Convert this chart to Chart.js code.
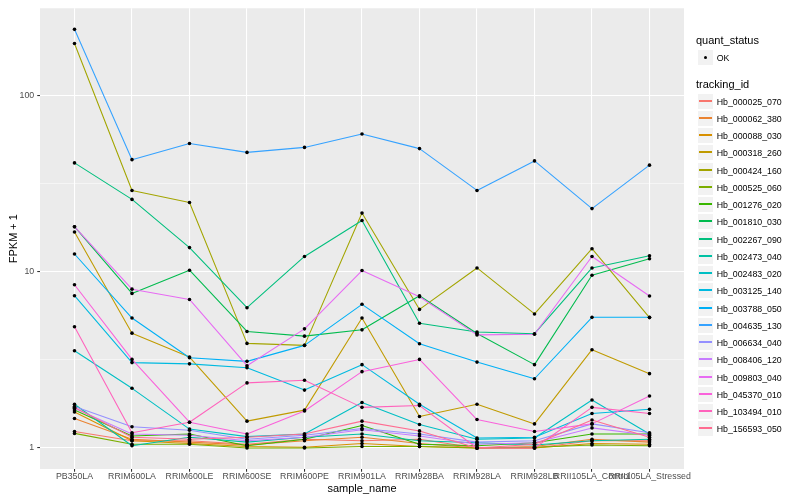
<!DOCTYPE html>
<html><head><meta charset="utf-8">
<script src="https://cdn.jsdelivr.net/npm/chart.js@4.4.1/dist/chart.umd.min.js"></script>
<style>
html,body{margin:0;padding:0;background:#fff;}
#wrap{position:relative;width:800px;height:500px;font-family:"Liberation Sans",Arial,sans-serif;overflow:hidden;}
canvas{position:absolute;left:0;top:0;}
.ttl{position:absolute;left:696px;font-size:11px;line-height:13px;color:#000;white-space:nowrap;}
.row{position:absolute;left:697px;height:17px;display:flex;align-items:center;white-space:nowrap;}
.key{width:17px;height:17px;box-sizing:border-box;background:#F2F2F2;border:1px solid #fff;position:relative;flex:none;}
.key .ln{position:absolute;left:1px;right:1px;top:6px;height:2px;}
.key .dot{position:absolute;left:5.7px;top:5.7px;width:3.6px;height:3.6px;border-radius:50%;background:#000;}
.lab{font-size:8.8px;line-height:10px;margin-left:2.7px;color:#000;}
</style></head><body>
<div id="wrap"><canvas id="c" width="800" height="500"></canvas><div id="legend"></div></div>
<script>
// ---- data ----
const categories = ["PB350LA","RRIM600LA","RRIM600LE","RRIM600SE","RRIM600PE","RRIM901LA","RRIM928BA","RRIM928LA","RRIM928LB","RRII105LA_Control","RRII105LA_Stressed"];
const trackingIds = ["Hb_000025_070","Hb_000062_380","Hb_000088_030","Hb_000318_260","Hb_000424_160","Hb_000525_060","Hb_001276_020","Hb_001810_030","Hb_002267_090","Hb_002473_040","Hb_002483_020","Hb_003125_140","Hb_003788_050","Hb_004635_130","Hb_006634_040","Hb_008406_120","Hb_009803_040","Hb_045370_010","Hb_103494_010","Hb_156593_050"];
const seriesColors = ["#F8766D","#EA8331","#D89000","#C09B00","#A3A500","#7CAE00","#39B600","#00BB4E","#00BF7D","#00C1A3","#00BFC4","#00BAE0","#00B0F6","#35A2FF","#9590FF","#C77CFF","#E76BF3","#FA62DB","#FF62BC","#FF6C91"];

const hb_000025_070 = [1.24, 1.10, 1.10, 1.05, 1.12, 1.10, 1.12, 1.00, 1.00, 1.10, 1.10];
const hb_000062_380 = [1.47, 1.12, 1.08, 1.04, 1.10, 1.15, 1.06, 1.00, 1.02, 1.12, 1.08];
const hb_000088_030 = [1.60, 1.10, 1.06, 1.02, 1.01, 1.06, 1.02, 1.00, 1.00, 1.06, 1.05];
const hb_000318_260 = [16.8, 4.48, 3.28, 1.42, 1.64, 5.46, 1.51, 1.77, 1.37, 3.61, 2.64];
const hb_000424_160 = [197, 28.9, 24.7, 3.92, 3.82, 21.5, 6.11, 10.5, 5.76, 13.5, 5.49];
const hb_000525_060 = [1.21, 1.05, 1.05, 1.00, 1.00, 1.02, 1.02, 1.00, 1.01, 1.04, 1.03];
const hb_001276_020 = [1.64, 1.17, 1.20, 1.03, 1.12, 1.34, 1.05, 1.03, 1.07, 1.20, 1.20];
const hb_001810_030 = [18.0, 7.53, 10.2, 4.58, 4.31, 4.68, 7.30, 4.46, 2.97, 9.55, 11.85];
const hb_002267_090 = [41.4, 25.7, 13.7, 6.25, 12.2, 19.5, 5.10, 4.55, 4.45, 10.5, 12.3];
const hb_002473_040 = [1.77, 1.03, 1.15, 1.08, 1.15, 1.20, 1.10, 1.07, 1.04, 1.10, 1.12];
const hb_002483_020 = [3.56, 2.18, 1.28, 1.16, 1.20, 1.81, 1.36, 1.12, 1.14, 1.87, 1.20];
const hb_003125_140 = [7.31, 3.05, 3.00, 2.85, 2.13, 2.97, 1.77, 1.14, 1.15, 1.57, 1.66];
const hb_003788_050 = [12.6, 5.46, 3.25, 3.10, 3.82, 6.53, 3.90, 3.07, 2.47, 5.51, 5.52];
const hb_004635_130 = [237, 43.2, 53.4, 47.5, 50.7, 60.4, 49.9, 28.9, 42.5, 22.8, 40.2];
const hb_006634_040 = [1.72, 1.32, 1.26, 1.12, 1.18, 1.29, 1.20, 1.08, 1.10, 1.37, 1.22];
const hb_008406_120 = [1.68, 1.20, 1.18, 1.10, 1.15, 1.27, 1.17, 1.05, 1.07, 1.30, 1.18];
const hb_009803_040 = [18.0, 7.96, 6.96, 2.93, 4.74, 10.15, 7.21, 4.38, 4.42, 12.2, 7.28];
const hb_045370_010 = [8.43, 3.18, 1.40, 1.20, 1.62, 2.71, 3.18, 1.45, 1.24, 1.37, 1.97];
const hb_103494_010 = [4.87, 1.22, 1.40, 2.34, 2.42, 1.70, 1.74, 1.00, 1.00, 1.70, 1.57];
const hb_156593_050 = [1.70, 1.15, 1.12, 1.15, 1.20, 1.42, 1.25, 1.00, 1.05, 1.44, 1.15];

const seriesValues = [hb_000025_070, hb_000062_380, hb_000088_030, hb_000318_260, hb_000424_160, hb_000525_060, hb_001276_020, hb_001810_030, hb_002267_090, hb_002473_040, hb_002483_020, hb_003125_140, hb_003788_050, hb_004635_130, hb_006634_040, hb_008406_120, hb_009803_040, hb_045370_010, hb_103494_010, hb_156593_050];

const yMajorTicks = [1, 10, 100];
const yMinorTicks = [3.1623, 31.623];
const yTickLabels = ["1", "10", "100"];
const quantStatus = ["OK"];

// ---- chart ----
const FONT = '"Liberation Sans", Arial, sans-serif';
Chart.defaults.font.family = FONT;

const datasets = [];
seriesValues.forEach((vals, i) => {
  datasets.push({
    label: trackingIds[i],
    data: vals.map((v, k) => ({x: k, y: v})),
    borderColor: seriesColors[i],
    backgroundColor: seriesColors[i],
    borderWidth: 1.07,
    borderJoinStyle: 'round',
    pointRadius: 0,
    tension: 0,
    fill: false,
    order: 100 - i
  });
});
seriesValues.forEach((vals, i) => {
  datasets.push({
    label: trackingIds[i] + ' ' + quantStatus[0],
    data: vals.map((v, k) => ({x: k, y: v})),
    showLine: false,
    pointRadius: 1.8,
    pointHoverRadius: 1.8,
    pointBackgroundColor: '#000',
    pointBorderWidth: 0,
    borderColor: '#000',
    order: 0
  });
});

const panelBg = {
  id: 'panelBg',
  beforeDraw(chart) {
    const {ctx, chartArea: a} = chart;
    ctx.save();
    ctx.fillStyle = '#EBEBEB';
    ctx.fillRect(a.left, a.top, a.right - a.left, a.bottom - a.top);
    ctx.restore();
  }
};

const allY = yMajorTicks.concat(yMinorTicks).sort((a, b) => a - b);
const isMajor = v => yMajorTicks.indexOf(v) >= 0;

new Chart(document.getElementById('c'), {
  type: 'line',
  data: {datasets},
  plugins: [panelBg],
  options: {
    responsive: false,
    animation: false,
    events: [],
    layout: {padding: {top: 5.5, right: 116, left: 0, bottom: 0}, autoPadding: false},
    plugins: {legend: {display: false}, tooltip: {enabled: false}, title: {display: false}},
    scales: {
      x: {
        type: 'linear',
        min: -0.6, max: 10.6,
        afterBuildTicks: s => { s.ticks = categories.map((c, i) => ({value: i})); },
        afterFit: s => { s.height = 31; },
        ticks: {
          callback: v => categories[v],
          autoSkip: false, maxRotation: 0, minRotation: 0,
          color: '#4D4D4D', font: {size: 8.8, family: FONT}, padding: -0.4
        },
        grid: {color: '#FFFFFF', lineWidth: 1.07, tickColor: '#333333', tickLength: 2.75, tickWidth: 1.07, drawTicks: true},
        border: {display: false},
        title: {display: true, text: 'sample_name', color: '#000', font: {size: 11, family: FONT}, padding: {top: 0, bottom: 4.3}}
      },
      y: {
        type: 'logarithmic',
        min: 0.76, max: 312,
        afterBuildTicks: s => { s.ticks = allY.map(v => ({value: v})); },
        afterFit: s => { s.width = 40; },
        ticks: {
          callback: v => { const k = yMajorTicks.indexOf(v); return k >= 0 ? yTickLabels[k] : ''; },
          autoSkip: false, color: '#4D4D4D', font: {size: 8.8, family: FONT}, padding: 3
        },
        grid: {
          color: '#FFFFFF',
          lineWidth: c => (c.tick && isMajor(c.tick.value)) ? 1.07 : 0.53,
          tickColor: c => (c.tick && isMajor(c.tick.value)) ? '#333333' : 'rgba(0,0,0,0)',
          tickLength: 2.75, tickWidth: 1.07, drawTicks: true
        },
        border: {display: false},
        title: {display: true, text: 'FPKM + 1', color: '#000', font: {size: 11, family: FONT}, padding: {top: 7, bottom: 0}}
      }
    }
  }
});

// ---- legend (HTML text) ----
const lg = document.getElementById('legend');
function addTitle(text, cy) {
  const d = document.createElement('div');
  d.className = 'ttl'; d.textContent = text; d.style.top = Math.round(cy - 6.5) + 'px';
  lg.appendChild(d);
}
function addRow(cy, label, color, isDot) {
  const r = document.createElement('div');
  r.className = 'row'; r.style.top = Math.round(cy - 8.5) + 'px';
  const k = document.createElement('div'); k.className = 'key';
  const m = document.createElement('div');
  if (isDot) { m.className = 'dot'; } else { m.className = 'ln'; m.style.background = color; }
  k.appendChild(m); r.appendChild(k);
  const t = document.createElement('span'); t.className = 'lab'; t.textContent = label;
  r.appendChild(t); lg.appendChild(r);
}
addTitle('quant_status', 40.7);
quantStatus.forEach((q, i) => addRow(57.3 + i * 17.25, q, '#000', true));
addTitle('tracking_id', 84.3);
trackingIds.forEach((id, i) => addRow(101 + i * 17.25, id, seriesColors[i], false));
</script>
</body></html>
